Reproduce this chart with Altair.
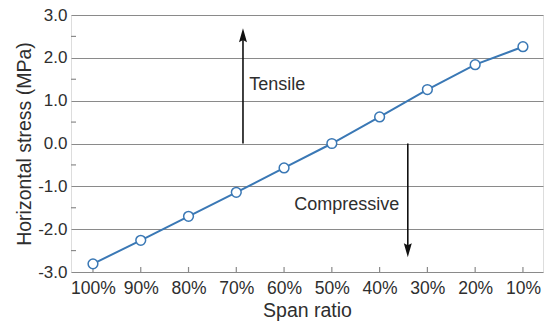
import altair as alt
import pandas as pd

span = [100, 90, 80, 70, 60, 50, 40, 30, 20, 10]
stress = [-2.81, -2.26, -1.70, -1.14, -0.57, 0.0, 0.62, 1.26, 1.84, 2.26]
y_ticks = [-3.0, -2.0, -1.0, 0.0, 1.0, 2.0, 3.0]
minor_ticks = [-2.5, -1.5, -0.5, 0.5, 1.5, 2.5]

arrow_x = [68.6, 34.1]
arrow_from = [0.0, 0.0]
arrow_to = [2.53, -2.49]
arrow_shape = ["up", "down"]

labels = ["Tensile", "Compressive"]
label_x = [67.3, 35.9]
label_y = [1.37, -1.44]
label_align = ["left", "right"]

df = pd.DataFrame({"span": span, "stress": stress})
arr = pd.DataFrame({"x": arrow_x, "y0": arrow_from, "y1": arrow_to, "dir": arrow_shape})
lab = pd.DataFrame({"x": label_x, "y": label_y, "t": labels, "a": label_align})

W, H = 472, 257
FONT = "Liberation Sans"
TXT = "#2e2e2e"

xscale = alt.Scale(domain=[5.8, 104.6], reverse=True, nice=False, zero=False)
yscale = alt.Scale(domain=[-3, 3], nice=False)

xaxis = alt.Axis(values=span, labelExpr="datum.value + '%'", grid=False, ticks=False,
                 domain=False, labelFontSize=17.5, labelColor=TXT, labelFont=FONT,
                 labelPadding=7, title="Span ratio", titleFontSize=19.5, titleFont=FONT,
                 titleColor=TXT, titleFontWeight="normal", titlePadding=5)
yaxis = alt.Axis(values=y_ticks, labelExpr="replace(format(datum.value, '.1f'), '\u2212', '-')",
                 grid=True, gridColor="#8a8a8a",
                 gridWidth=1.2, ticks=False, domain=False, labelFontSize=17,
                 labelColor=TXT, labelFont=FONT, labelPadding=4,
                 title="Horizontal stress (MPa)", titleFontSize=19.5, titleFont=FONT,
                 titleColor=TXT, titleFontWeight="normal", titlePadding=3)

base = alt.Chart(df)

line = base.mark_line(color="#3a78b5", strokeWidth=2).encode(
    x=alt.X("span:Q", scale=xscale, axis=xaxis),
    y=alt.Y("stress:Q", scale=yscale, axis=yaxis),
)
pts = base.mark_point(filled=True, fill="white", stroke="#3a78b5", strokeWidth=1.5,
                      size=95, opacity=1).encode(x="span:Q", y="stress:Q")

xt = base.mark_rule(color="#8a8a8a", strokeWidth=1.2).encode(
    x="span:Q", y=alt.value(H), y2=alt.value(H - 5))
yt = alt.Chart(pd.DataFrame({"v": minor_ticks})).mark_rule(
    color="#8a8a8a", strokeWidth=1.2).encode(
    y="v:Q", x=alt.value(0), x2=alt.value(5))

shafts = alt.Chart(arr).mark_rule(color="#111", strokeWidth=1.6).encode(
    x="x:Q", y="y0:Q", y2="y1:Q")
head_up = alt.Chart(arr[arr["dir"] == "up"]).mark_point(
    shape="M0,-1 L-0.57,1 L0,0.7 L0.57,1 Z", filled=True, color="#111",
    size=196, opacity=1).encode(x="x:Q", y="y1:Q")
head_dn = alt.Chart(arr[arr["dir"] == "down"]).mark_point(
    shape="M0,1 L-0.57,-1 L0,-0.7 L0.57,-1 Z", filled=True, color="#111",
    size=196, opacity=1).encode(x="x:Q", y="y1:Q")

t1 = alt.Chart(lab[lab["a"] == "left"]).mark_text(
    align="left", baseline="middle", fontSize=18, font=FONT, color=TXT).encode(
    x="x:Q", y="y:Q", text="t:N")
t2 = alt.Chart(lab[lab["a"] == "right"]).mark_text(
    align="right", baseline="middle", fontSize=18, font=FONT, color=TXT).encode(
    x="x:Q", y="y:Q", text="t:N")

chart = alt.layer(line, xt, yt, shafts, head_up, head_dn, t1, t2, pts).properties(
    width=W, height=H,
    autosize=alt.AutoSizeParams(type="none"),
    padding={"left": 71, "top": 15, "right": 11, "bottom": 53},
).configure_view(stroke="#8a8a8a", strokeWidth=1.5).configure(background="white")

chart.save("out.html", embed_options={"renderer": "svg", "actions": False})
